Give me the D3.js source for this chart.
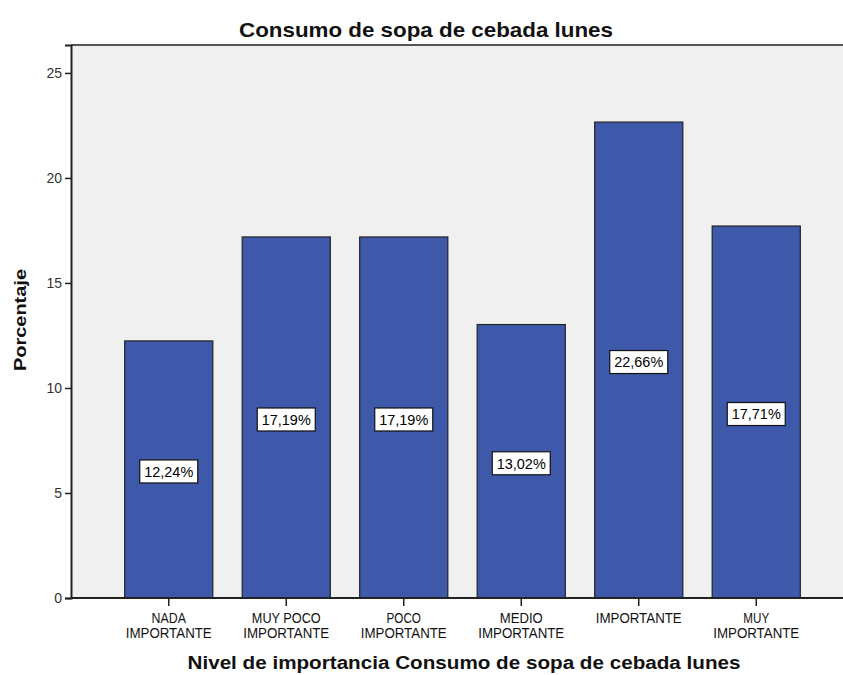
<!DOCTYPE html>
<html>
<head>
<meta charset="utf-8">
<script src="https://cdn.jsdelivr.net/npm/d3@7/dist/d3.min.js"></script>
<style>
  html, body { margin: 0; padding: 0; background: #ffffff; }
  svg { display: block; }
  text { font-family: Arial, "Liberation Sans", Helvetica, sans-serif; }
</style>
</head>
<body>
<svg id="chart" width="843" height="675"></svg>
<script>
// ---- data ----
const categories = [
  ["NADA", "IMPORTANTE"],
  ["MUY POCO", "IMPORTANTE"],
  ["POCO", "IMPORTANTE"],
  ["MEDIO", "IMPORTANTE"],
  ["IMPORTANTE"],
  ["MUY", "IMPORTANTE"]
];
const values = [12.24, 17.19, 17.19, 13.02, 22.66, 17.71];
const valueLabels = ["12,24%", "17,19%", "17,19%", "13,02%", "22,66%", "17,71%"];
const yTicks = [0, 5, 10, 15, 20, 25];
const title = "Consumo de sopa de cebada lunes";
const xTitle = "Nivel de importancia Consumo de sopa de cebada lunes";
const yTitle = "Porcentaje";

// ---- layout ----
const svg = d3.select("#chart");
const plot = { left: 71, right: 855, top: 45, bottom: 598 };

const y = d3.scaleLinear().domain([0, 26.33]).range([plot.bottom, plot.top]);
const x = d3.scaleBand()
  .domain(d3.range(values.length))
  .range([110, 815])
  .paddingInner(0.25)
  .paddingOuter(0.125);

// plot background
svg.append("rect")
  .attr("x", plot.left).attr("y", plot.top)
  .attr("width", plot.right - plot.left).attr("height", plot.bottom - plot.top)
  .attr("fill", "#f0f0f0");

// top border
svg.append("line")
  .attr("x1", plot.left).attr("x2", plot.right)
  .attr("y1", plot.top).attr("y2", plot.top)
  .attr("stroke", "#555").attr("stroke-width", 2);

// bars
svg.append("g").selectAll("rect")
  .data(values)
  .join("rect")
  .attr("x", (d, i) => x(i))
  .attr("y", d => y(d))
  .attr("width", x.bandwidth())
  .attr("height", d => y(0) - y(d))
  .attr("fill", "#3e58aa")
  .attr("stroke", "#222")
  .attr("stroke-width", 1.2);

// value labels
const lab = svg.append("g").selectAll("g")
  .data(values)
  .join("g")
  .attr("transform", (d, i) => `translate(${x(i) + x.bandwidth() / 2},${y(d / 2) + 2})`);
lab.append("rect")
  .attr("x", -29).attr("y", -11.5)
  .attr("width", 58).attr("height", 23)
  .attr("fill", "#ffffff")
  .attr("stroke", "#111").attr("stroke-width", 1.2);
lab.append("text")
  .attr("text-anchor", "middle")
  .attr("dy", "0.36em")
  .attr("font-size", 15)
  .attr("textLength", 49).attr("lengthAdjust", "spacingAndGlyphs")
  .attr("fill", "#000")
  .text((d, i) => valueLabels[i]);

// y axis
const yAxis = d3.axisLeft(y).tickValues(yTicks).tickSize(6).tickPadding(3).tickFormat(d3.format("d"));
const gy = svg.append("g").attr("transform", `translate(${plot.left},0)`).call(yAxis);
gy.select(".domain").attr("stroke", "#222").attr("stroke-width", 2);
gy.selectAll(".tick line").attr("stroke", "#222").attr("stroke-width", 1.5);
gy.selectAll(".tick text").attr("font-size", 14).attr("fill", "#333")
  .style("font-family", "Arial, 'Liberation Sans', sans-serif");

// x axis
const xAxis = d3.axisBottom(x).tickSize(8).tickFormat("");
const gx = svg.append("g").attr("transform", `translate(0,${plot.bottom})`).call(xAxis);
gx.select(".domain").attr("d", `M${plot.left},0H${plot.right}`).attr("stroke", "#222").attr("stroke-width", 2);
gx.selectAll(".tick line").attr("stroke", "#222").attr("stroke-width", 1.5);

// category labels
const catG = svg.append("g").selectAll("text")
  .data(categories)
  .join("text")
  .attr("text-anchor", "middle")
  .attr("font-size", 14)
  .attr("fill", "#111")
  .attr("transform", (d, i) => `translate(${x(i) + x.bandwidth() / 2},623)`);
catG.selectAll("tspan")
  .data(d => d)
  .join("tspan")
  .attr("x", 0)
  .attr("dy", (d, j) => j === 0 ? 0 : 15)
  .attr("textLength", d => d.length * 8.6)
  .attr("lengthAdjust", "spacingAndGlyphs")
  .text(d => d);

// title
svg.append("text")
  .attr("x", 426).attr("y", 37)
  .attr("text-anchor", "middle")
  .attr("font-size", 20.5).attr("font-weight", "bold")
  .attr("textLength", 374).attr("lengthAdjust", "spacingAndGlyphs")
  .attr("fill", "#111")
  .text(title);

// x axis title
svg.append("text")
  .attr("x", 464).attr("y", 669)
  .attr("text-anchor", "middle")
  .attr("font-size", 17.5).attr("font-weight", "bold")
  .attr("textLength", 553).attr("lengthAdjust", "spacingAndGlyphs")
  .attr("fill", "#111")
  .text(xTitle);

// y axis title
svg.append("text")
  .attr("transform", "translate(26,320) rotate(-90)")
  .attr("text-anchor", "middle")
  .attr("font-size", 17).attr("font-weight", "bold")
  .attr("textLength", 102).attr("lengthAdjust", "spacingAndGlyphs")
  .attr("fill", "#111")
  .text(yTitle);
</script>
</body>
</html>
